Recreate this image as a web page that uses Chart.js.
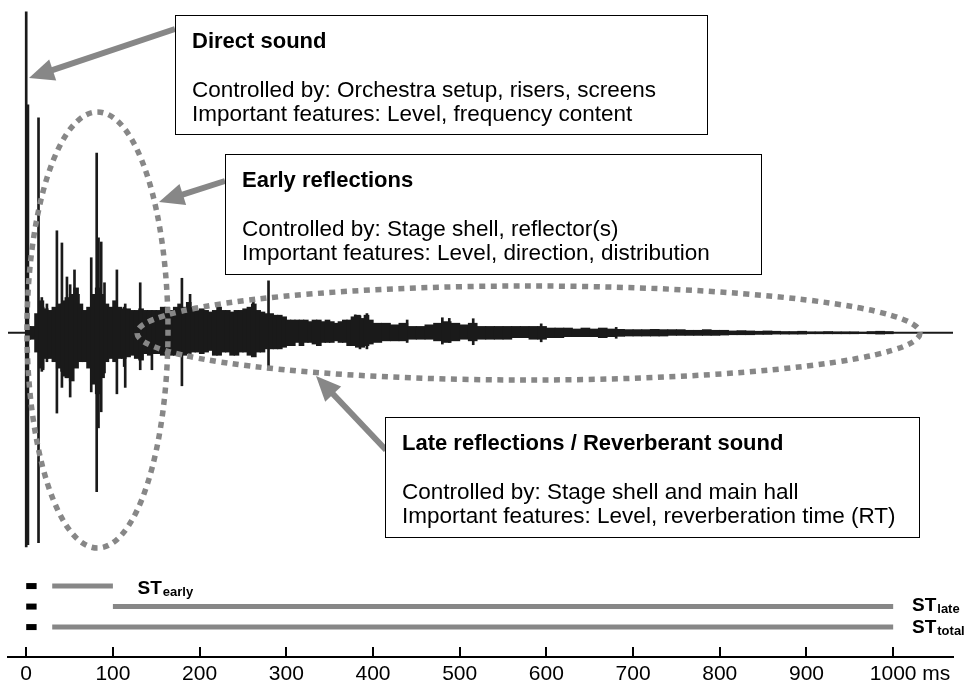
<!DOCTYPE html>
<html>
<head>
<meta charset="utf-8">
<title>Room impulse response</title>
<script src="https://cdn.jsdelivr.net/npm/chart.js@4.4.1/dist/chart.umd.min.js"></script>
<style>
  html, body { margin: 0; padding: 0; background: #fff; overflow: hidden; }
  #wrap { width: 968px; height: 684px; }
</style>
</head>
<body>
<div id="wrap"><canvas id="irChart"></canvas></div>
<script>
// impulse response, amplitude in % of the direct sound peak
// dense part as min/max envelope per bin
const fineStep = 5;            // ms, bins 0..395 ms
const fineUpper = [
  2, 2, 6, 10, 7.5, 7, 8, 9, 9, 11,
  12, 14, 9, 7, 8, 12, 14, 12, 9, 8,
  10, 8, 7.5, 7.5, 7, 7, 7.5, 7, 7, 7,
  7, 8, 8, 7, 8, 9, 8, 9.5, 8, 7,
  7.5, 7, 6.5, 7, 8, 7, 7, 6.5, 7, 7,
  7.5, 8, 9, 7, 6.5, 6, 6, 5.5, 5.5, 5,
  4, 4, 4, 4, 4, 3.5, 4, 4, 3.5, 4,
  3.5, 3, 3.5, 4, 4, 5, 5.5, 4.5, 5.5, 4
];
const fineLower = [
  -2, -2, -6, -11, -8, -8, -9, -11, -12, -14,
  -15, -11, -9, -9, -11, -16, -19, -14, -9, -8,
  -9, -8, -8, -7.5, -7, -8, -8.5, -6.5, -7, -6.5,
  -6.5, -7, -7, -7, -7, -7, -7, -6.5, -6, -6,
  -6.5, -6, -5.5, -7, -7, -6, -6, -7, -7, -6,
  -6, -7, -7.5, -6, -6, -5, -5, -5, -5, -4.5,
  -4, -4, -3, -4, -3, -3, -3.5, -4, -3, -3,
  -3, -2.5, -3, -3, -4, -4, -4.5, -4.5, -4, -3.5
];
const coarseStart = 400, coarseStep = 10;   // ms, bins 400..990 ms
const coarseUpper = [
  3, 3, 2.5, 3, 2, 2, 2.5, 3, 3.5, 3,
  2.5, 3, 2, 2, 2, 2, 2, 2, 2, 2,
  1.5, 1.5, 1.5, 1.2, 1.5, 1.2, 1.5, 1.2, 1.1, 1,
  1, 1, 1.1, 1, 1, 1, 0.8, 0.8, 1, 0.8,
  0.8, 0.6, 0.7, 0.6, 0.5, 0.6, 0.5, 0.4, 0.4, 0.5,
  0.3, 0.3, 0.4, 0.3, 0.3, 0.3, 0.2, 0.4, 0.5, 0.4
];
const coarseLower = [
  -3, -2.5, -2.5, -2.5, -2, -2, -2, -2.5, -3, -2.5,
  -2, -2.5, -2, -2, -2, -2, -1.5, -1.5, -2, -2,
  -1.5, -1.5, -1.2, -1.2, -1.2, -1.2, -1.5, -1.2, -1.1, -1,
  -1, -1, -1, -1, -0.8, -0.8, -0.8, -0.8, -0.8, -0.8,
  -0.7, -0.6, -0.6, -0.6, -0.5, -0.5, -0.4, -0.4, -0.4, -0.4,
  -0.3, -0.3, -0.3, -0.3, -0.3, -0.3, -0.2, -0.3, -0.4, -0.3
];

// direct sound and the strong single reflections: time (ms), peaks
const spikeTimes  = [0, 2, 14.2, 18, 19.5, 23.9, 35.4, 41.2, 44, 47, 50.7, 55.7, 60.3, 75, 81.3, 83.4, 86.5, 90.3, 104.6,
                     113, 114.2, 131.5, 145, 179.6, 189, 262, 279.5, 379.5, 385, 393, 439.4, 480, 488, 515.6, 594, 680.5];
const spikeTop    = [100, 71, 67, 11, 8, 9, 31.8, 28, 10, 17.4, 15, 19.6, 12, 23.4, 56, 29.6, 28.3, 15.6, 19.6,
                     8, 9, 15.6, 6, 17, 12, 10, 16.2, 5.6, 5.3, 6, 4, 4.7, 4.5, 4.4, 2.8, 1.7];
const spikeBottom = [-66.7, -66, -65.4, -12, -11.5, -9, -25, -17, -13.5, -14, -20, -9, -8, -18.4, -49.5, -29.6, -24.6, -12.5, -19,
                     -10.5, -17, -11.5, -11.5, -16.5, -6, -6, -11.5, -4, -5, -5, -3, -3.5, -3, -3.7, -2.8, -1.7];

// ST integration windows (ms)
const stNames = ['early', 'late', 'total'];
const stFrom = [30, 100, 30];
const stTo = [100, 1000, 1000];
const directWindow = [0, 12];

const tickValues = [0, 100, 200, 300, 400, 500, 600, 700, 800, 900, 1000];

const ink = '#1a1a1a';
const gray = '#878787';
const family = "'Liberation Sans', Arial, Helvetica, sans-serif";
Chart.defaults.font.family = family;

const fineData = fineUpper.map((u, i) => ({ x: i * fineStep + fineStep / 2, y: [fineLower[i], u] }));
const coarseData = coarseUpper.map((u, i) => ({ x: coarseStart + i * coarseStep + coarseStep / 2, y: [coarseLower[i], u] }));
const spikeData = spikeTimes.map((t, i) => ({ x: t, y: [spikeBottom[i], spikeTop[i]] }));

const notes = [
  { x: 175, y: 15, w: 532, h: 119, title: 'Direct sound',
    lines: ['Controlled by: Orchestra setup, risers, screens', 'Important features: Level, frequency content'] },
  { x: 225, y: 154, w: 536, h: 120, title: 'Early reflections',
    lines: ['Controlled by: Stage shell, reflector(s)', 'Important features: Level, direction, distribution'] },
  { x: 385, y: 417, w: 534, h: 120, title: 'Late reflections / Reverberant sound',
    lines: ['Controlled by: Stage shell and main hall', 'Important features: Level, reverberation time (RT)'] }
];

function arrow(ctx, x1, y1, x2, y2) {
  const a = Math.atan2(y2 - y1, x2 - x1);
  const hl = 25, hw = 11;
  const bx = x2 - hl * Math.cos(a), by = y2 - hl * Math.sin(a);
  ctx.strokeStyle = gray;
  ctx.fillStyle = gray;
  ctx.lineWidth = 6;
  ctx.setLineDash([]);
  ctx.beginPath();
  ctx.moveTo(x1, y1);
  ctx.lineTo(bx + 2 * Math.cos(a), by + 2 * Math.sin(a));
  ctx.stroke();
  ctx.beginPath();
  ctx.moveTo(x2, y2);
  ctx.lineTo(bx + hw * Math.sin(a), by - hw * Math.cos(a));
  ctx.lineTo(bx - hw * Math.sin(a), by + hw * Math.cos(a));
  ctx.closePath();
  ctx.fill();
}

function dottedEllipse(ctx, cx, cy, rx, ry) {
  ctx.strokeStyle = gray;
  ctx.lineWidth = 5.5;
  ctx.setLineDash([6, 5.5]);
  ctx.beginPath();
  ctx.ellipse(cx, cy, rx, ry, 0, 0, Math.PI * 2);
  ctx.stroke();
  ctx.setLineDash([]);
}

function stLabel(ctx, x, y, sub, dy) {
  ctx.fillStyle = '#000';
  ctx.textAlign = 'left';
  ctx.textBaseline = 'alphabetic';
  ctx.font = 'bold 19px ' + family;
  ctx.fillText('ST', x, y + dy);
  const w = ctx.measureText('ST').width;
  ctx.font = 'bold 13px ' + family;
  ctx.fillText(sub, x + w + 1, y + dy + 2);
}

const annotations = {
  id: 'annotations',
  beforeDatasetsDraw(chart) {
    const { ctx, chartArea: a, scales: { y } } = chart;
    const y0 = y.getPixelForValue(0);
    ctx.save();
    ctx.strokeStyle = ink;
    ctx.lineWidth = 2;
    ctx.beginPath();
    ctx.moveTo(a.left, y0);
    ctx.lineTo(a.right, y0);
    ctx.stroke();
    ctx.restore();
  },
  afterDatasetsDraw(chart) {
    const { ctx, chartArea: a, scales: { x, yST } } = chart;
    ctx.save();

    dottedEllipse(ctx, 97.5, 330, 70.5, 218);
    dottedEllipse(ctx, 528.5, 333, 391.5, 47);

    arrow(ctx, 175, 29, 29, 78);
    arrow(ctx, 225, 181, 159, 202);
    arrow(ctx, 386, 450, 316, 376);

    notes.forEach(n => {
      ctx.fillStyle = '#fff';
      ctx.fillRect(n.x, n.y, n.w, n.h);
      ctx.strokeStyle = '#000';
      ctx.lineWidth = 1;
      ctx.strokeRect(n.x + 0.5, n.y + 0.5, n.w, n.h);
      ctx.fillStyle = '#000';
      ctx.textAlign = 'left';
      ctx.textBaseline = 'middle';
      ctx.font = 'bold 22px ' + family;
      ctx.fillText(n.title, n.x + 17, n.y + 27);
      ctx.font = '22.5px ' + family;
      ctx.fillText(n.lines[0], n.x + 17, n.y + 76);
      ctx.fillText(n.lines[1], n.x + 17, n.y + 100);
    });

    stLabel(ctx, 137.5, yST.getPixelForValue(0), stNames[0], 7.5);
    stLabel(ctx, 912, yST.getPixelForValue(1), stNames[1], 4);
    stLabel(ctx, 912, yST.getPixelForValue(2), stNames[2], 6);

    // tick marks point up into the plot
    ctx.strokeStyle = '#000';
    ctx.lineWidth = 2;
    tickValues.forEach(v => {
      const px = Math.round(x.getPixelForValue(v));
      ctx.beginPath();
      ctx.moveTo(px, a.bottom - 10);
      ctx.lineTo(px, a.bottom);
      ctx.stroke();
    });

    ctx.font = '21px ' + family;
    ctx.fillStyle = '#000';
    ctx.textAlign = 'left';
    ctx.textBaseline = 'middle';
    const last = tickValues[tickValues.length - 1];
    const lx = x.getPixelForValue(last) + ctx.measureText(String(last)).width / 2;
    ctx.fillText(' ms', lx, a.bottom + 17);
    ctx.restore();
  }
};

const stLines = stNames.map((n, i) => ({
  type: 'line',
  label: 'ST ' + n,
  data: [{ x: stFrom[i], y: i }, { x: stTo[i], y: i }],
  yAxisID: 'yST',
  borderColor: gray,
  borderWidth: 5,
  borderCapStyle: 'butt',
  pointRadius: 0,
  fill: false
}));
const directMarks = stNames.map((n, i) => ({
  type: 'line',
  label: 'direct ' + n,
  data: [{ x: directWindow[0], y: i }, { x: directWindow[1], y: i }],
  yAxisID: 'yST',
  borderColor: '#000',
  borderWidth: 6,
  borderCapStyle: 'butt',
  pointRadius: 0,
  fill: false
}));

new Chart(document.getElementById('irChart'), {
  type: 'bar',
  data: {
    datasets: [
      { label: 'envelope', data: fineData, backgroundColor: ink, borderWidth: 0, barThickness: 5, grouped: false, yAxisID: 'y' },
      { label: 'tail', data: coarseData, backgroundColor: ink, borderWidth: 0, barThickness: 9, grouped: false, yAxisID: 'y' },
      { label: 'reflections', data: spikeData, backgroundColor: ink, borderWidth: 0, barThickness: 2, grouped: false, yAxisID: 'y' },
      ...stLines,
      ...directMarks
    ]
  },
  options: {
    responsive: true,
    maintainAspectRatio: false,
    animation: false,
    events: [],
    layout: { padding: { left: 8, right: 15, top: 0, bottom: 0 } },
    plugins: { legend: { display: false }, tooltip: { enabled: false } },
    scales: {
      x: {
        type: 'linear',
        min: -21,
        max: 1069,
        offset: false,
        grid: { display: false, drawTicks: false },
        border: { display: true, color: '#000', width: 2 },
        afterBuildTicks: s => { s.ticks = tickValues.map(v => ({ value: v })); },
        afterFit: s => { s.height = 27; },
        ticks: { color: '#000', font: { size: 21 }, padding: 4.5, autoSkip: false, maxRotation: 0, callback: v => String(v) }
      },
      y: { display: false, min: -101, max: 103.7 },
      yST: { display: false, reverse: true, min: -28.59, max: 3.46 }
    }
  },
  plugins: [annotations]
});
</script>
</body>
</html>
